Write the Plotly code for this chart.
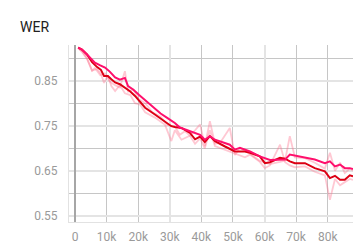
import plotly.graph_objects as go

# ---- data (steps in thousands) ----
pink_steps = [1.0, 2.2, 3.8, 5.4, 6.3, 8.0, 9.5, 11.0, 12.7, 14.2, 15.8, 16.8, 18.5, 20.3,
              22.2, 24.5, 27.1, 29.3, 31.6, 33.2, 34.8, 36.4, 38.0, 39.6, 41.1, 42.7, 44.3,
              45.9, 49.0, 50.6, 52.2, 55.4, 58.5, 61.7, 64.9, 66.5, 68.0, 69.6, 72.8, 75.9,
              79.1, 80.7, 82.3, 83.9, 85.4, 87.0, 88.0]
pink_smooth = [0.923, 0.919, 0.908, 0.895, 0.890, 0.884, 0.879, 0.870, 0.857, 0.852, 0.856,
               0.838, 0.830, 0.818, 0.806, 0.792, 0.777, 0.767, 0.756, 0.746, 0.742, 0.738,
               0.734, 0.730, 0.719, 0.727, 0.719, 0.715, 0.708, 0.697, 0.701, 0.693, 0.682,
               0.674, 0.675, 0.675, 0.686, 0.684, 0.680, 0.675, 0.667, 0.671, 0.660, 0.664,
               0.656, 0.656, 0.654]
pink_raw = [0.922, 0.915, 0.900, 0.872, 0.878, 0.862, 0.866, 0.848, 0.840, 0.835, 0.871,
            0.826, 0.830, 0.808, 0.800, 0.780, 0.770, 0.752, 0.748, 0.730, 0.738, 0.728,
            0.740, 0.753, 0.705, 0.760, 0.710, 0.712, 0.745, 0.685, 0.700, 0.688, 0.672,
            0.665, 0.670, 0.673, 0.727, 0.680, 0.678, 0.668, 0.655, 0.690, 0.650, 0.668,
            0.645, 0.655, 0.650]

red_steps = [1.0, 2.2, 3.8, 5.4, 7.0, 8.2, 9.2, 10.4, 11.5, 12.7, 14.2, 15.8, 17.5, 19.0,
             20.6, 22.2, 25.3, 28.5, 30.5, 31.6, 33.7, 36.4, 38.0, 39.6, 41.1, 42.7, 44.3,
             47.5, 50.6, 53.8, 55.4, 58.5, 60.1, 61.7, 64.9, 66.5, 68.0, 69.6, 72.8, 75.9,
             79.1, 80.7, 82.3, 83.9, 85.4, 87.0, 88.0]
red_smooth = [0.923, 0.919, 0.908, 0.891, 0.880, 0.874, 0.860, 0.860, 0.853, 0.846, 0.842,
              0.834, 0.826, 0.816, 0.804, 0.790, 0.775, 0.760, 0.749, 0.747, 0.745, 0.734,
              0.720, 0.726, 0.714, 0.727, 0.716, 0.704, 0.693, 0.693, 0.690, 0.682, 0.667,
              0.669, 0.679, 0.677, 0.671, 0.667, 0.667, 0.656, 0.649, 0.634, 0.639, 0.630,
              0.630, 0.640, 0.638]
red_raw = [0.922, 0.914, 0.898, 0.872, 0.876, 0.865, 0.845, 0.862, 0.838, 0.827, 0.840,
           0.822, 0.818, 0.800, 0.797, 0.780, 0.768, 0.752, 0.716, 0.740, 0.719, 0.728,
           0.710, 0.722, 0.700, 0.740, 0.705, 0.697, 0.688, 0.680, 0.686, 0.670, 0.656,
           0.662, 0.708, 0.669, 0.662, 0.658, 0.660, 0.648, 0.640, 0.586, 0.632, 0.618,
           0.625, 0.632, 0.630]

x_tick_vals = [0, 10000, 20000, 30000, 40000, 50000, 60000, 70000, 80000]
x_tick_text = ["0", "10k", "20k", "30k", "40k", "50k", "60k", "70k", "80k"]
x_major_grid = [0, 30000, 60000]
y_tick_vals = [0.55, 0.65, 0.75, 0.85]
y_tick_text = ["0.55", "0.65", "0.75", "0.85"]

PINK = "#ff0f6c"
RED = "#dc0014"
RAW = "rgba(255,110,140,0.38)"

fig = go.Figure()
fig.add_trace(go.Scatter(x=[s * 1000 for s in pink_steps], y=pink_raw, mode="lines",
                         line=dict(color=RAW, width=1.8), xaxis="x", yaxis="y",
                         hoverinfo="skip"))
fig.add_trace(go.Scatter(x=[s * 1000 for s in red_steps], y=red_raw, mode="lines",
                         line=dict(color=RAW, width=1.8), xaxis="x", yaxis="y",
                         hoverinfo="skip"))
fig.add_trace(go.Scatter(x=[s * 1000 for s in red_steps], y=red_smooth, mode="lines",
                         line=dict(color=RED, width=2), xaxis="x2", yaxis="y"))
fig.add_trace(go.Scatter(x=[s * 1000 for s in pink_steps], y=pink_smooth, mode="lines",
                         line=dict(color=PINK, width=2), xaxis="x2", yaxis="y"))

xr = [-1900, 88000]
tickfont = dict(family="Roboto", size=12, color="#9a9a9a")
fig.update_layout(
    width=353, height=246,
    margin=dict(l=69, r=0, t=45, b=24),
    paper_bgcolor="white", plot_bgcolor="white",
    showlegend=False,
    title=dict(text="WER", x=20 / 353, xanchor="left", xref="container",
               y=1 - 27 / 246, yanchor="middle", yref="container",
               font=dict(family="Roboto", size=14, color="#212121")),
    xaxis=dict(range=xr, tickmode="array", tickvals=x_major_grid, showticklabels=False,
               ticks="", showgrid=True, gridcolor="#e4e4e4", gridwidth=2,
               minor=dict(tickmode="linear", tick0=0, dtick=10000, showgrid=True,
                          gridcolor="#c6c6c6", gridwidth=1),
               zeroline=True, zerolinecolor="#a6a6a6", zerolinewidth=2,
               showline=True, linecolor="#e2e2e2", linewidth=1),
    xaxis2=dict(range=xr, overlaying="x", anchor="y", side="bottom",
                tickmode="array", tickvals=x_tick_vals, ticktext=x_tick_text,
                showgrid=False, zeroline=False, ticks="", tickfont=tickfont,
                ticklabelstandoff=6),
    yaxis=dict(range=[0.5366, 0.929], tickmode="array", tickvals=y_tick_vals,
               ticktext=y_tick_text, ticks="", showgrid=True, gridcolor="#e4e4e4",
               gridwidth=2,
               minor=dict(tickmode="linear", tick0=0.55, dtick=0.05, showgrid=True,
                          gridcolor="#c6c6c6", gridwidth=1),
               zeroline=False, showline=True, linecolor="#e2e2e2", linewidth=1,
               tickfont=tickfont, ticklabelstandoff=8),
)

fig.write_html("out.html")
